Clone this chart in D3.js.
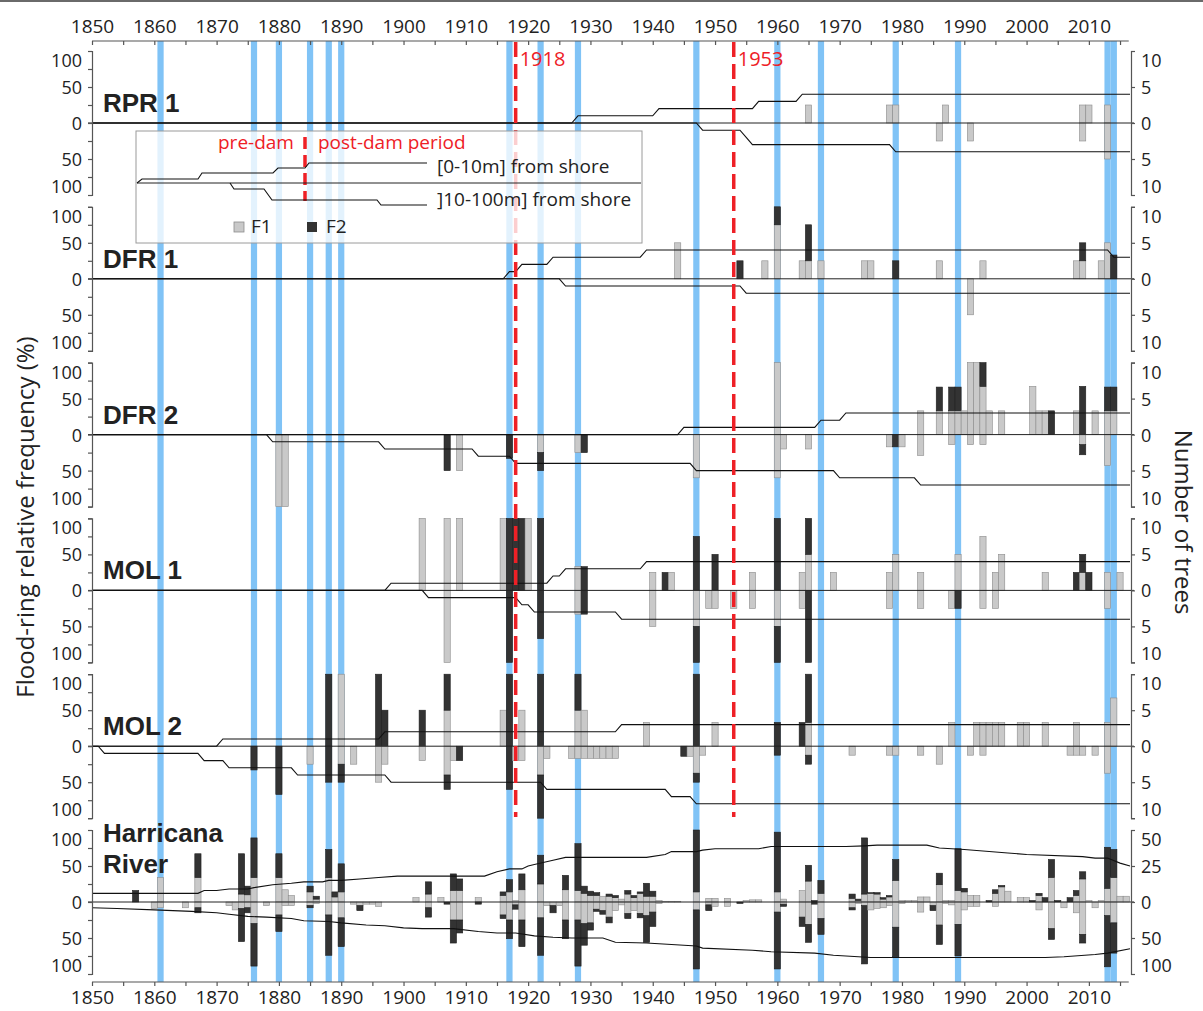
<!DOCTYPE html>
<html>
<head>
<meta charset="utf-8">
<script src="https://cdn.jsdelivr.net/npm/d3@7"></script>
<style>
body { margin: 0; background: #fff; }
svg { display: block; font-family: "Open Sans", sans-serif; }
</style>
</head>
<body>
<div id="chart"></div>
<script>
// ---- data ----
const tickYears = d3.range(1850, 2016, 5)
const labelYears = d3.range(1850, 2011, 10)
const floodYears = [1861, 1876, 1880, 1885, 1888, 1890, 1917, 1922, 1928, 1947, 1960, 1967, 1979, 1989, 2013, 2014]
const damYears = [1918, 1953]
const panelNames = ['RPR 1', 'DFR 1', 'DFR 2', 'MOL 1', 'MOL 2', 'Harricana|River']
const pctTicks = [-100, -75, -50, -25, 0, 25, 50, 75, 100]
const treeLabels = [10, 5, 0, 5, 10]          // bottom -> top
const harrTreeLabels = [100, 50, 0, 25, 50]   // bottom -> top

// bars: [year, F1 up, F2 up, F1 down, F2 down] (%), up = [0-10m], down = ]10-100m]
const rpr1Bars = [[1965,25,0,0,0],[1978,25,0,0,0],[1979,25,0,0,0],[1986,0,0,25,0],[1987,25,0,0,0],
  [1991,0,0,25,0],[2009,25,0,25,0],[2010,25,0,0,0],[2013,25,0,50,0]]
const dfr1Bars = [[1944,50,0,0,0],[1954,0,25,0,0],[1958,25,0,0,0],[1960,75,25,0,0],[1964,25,0,0,0],
  [1965,25,50,0,0],[1967,25,0,0,0],[1974,25,0,0,0],[1975,25,0,0,0],[1979,0,25,0,0],[1986,25,0,0,0],
  [1991,0,0,50,0],[1993,25,0,0,0],[2008,25,0,0,0],[2009,25,25,0,0],[2012,25,0,0,0],[2013,50,0,0,0],[2014,0,33,0,0]]
const dfr2Bars = [[1880,0,0,100,0],[1881,0,0,100,0],[1907,0,0,0,50],[1909,0,0,50,0],[1917,0,0,0,33],
  [1922,0,0,25,25],[1928,0,0,25,0],[1929,0,0,0,25],[1947,0,0,60,0],[1960,100,0,60,0],[1961,0,0,20,0],
  [1965,0,0,20,0],[1978,0,0,17,0],[1979,0,0,0,17],[1980,0,0,17,0],[1983,33,0,29,0],[1986,33,33,0,0],
  [1988,33,33,14,0],[1989,33,33,0,0],[1990,33,0,0,0],[1991,100,0,14,0],[1992,100,0,0,0],[1993,67,33,14,0],
  [1994,33,0,0,0],[1996,33,0,0,0],[2001,67,0,0,0],[2002,33,0,0,0],[2003,33,0,0,0],[2004,0,33,0,0],
  [2008,33,0,0,0],[2009,0,67,14,14],[2011,33,0,0,0],[2013,33,33,43,0],[2014,33,33,0,0]]
const mol1Bars = [[1903,100,0,0,0],[1907,100,0,100,0],[1909,100,0,0,0],[1916,100,0,0,0],[1917,0,100,0,100],
  [1918,0,100,0,0],[1919,0,100,0,0],[1920,100,0,0,0],[1922,0,100,0,67],[1928,33,0,33,0],[1929,0,33,0,33],
  [1940,25,0,50,0],[1942,0,25,0,0],[1943,25,0,0,0],[1947,0,75,50,50],[1949,0,0,25,0],[1950,0,50,25,0],
  [1953,0,0,25,0],[1956,25,0,25,0],[1960,0,100,50,50],[1964,25,0,25,0],[1965,50,50,0,100],[1969,25,0,0,0],
  [1978,25,0,25,0],[1979,50,0,0,0],[1983,25,0,25,0],[1988,0,0,25,0],[1989,50,0,0,25],[1993,75,0,25,0],
  [1995,25,0,25,0],[1996,50,0,0,0],[2003,25,0,0,0],[2008,0,25,0,0],[2009,25,25,0,0],[2010,0,25,0,0],
  [2013,25,0,25,0],[2015,25,0,0,0]]
const mol2Bars = [[1876,0,0,0,33],[1880,0,0,0,67],[1885,0,0,25,0],[1888,0,100,0,50],[1890,100,0,25,25],
  [1892,0,0,25,0],[1896,0,100,50,0],[1897,0,50,25,0],[1903,0,50,20,0],[1907,50,50,40,20],[1908,0,0,20,0],
  [1909,0,0,0,20],[1916,50,0,0,0],[1917,0,100,0,60],[1918,0,0,20,0],[1919,50,0,20,0],[1922,0,100,40,60],
  [1923,0,0,17,0],[1927,0,0,17,0],[1928,50,50,17,0],[1929,50,0,17,0],[1930,0,0,17,0],[1931,0,0,17,0],
  [1932,0,0,17,0],[1933,0,0,17,0],[1934,0,0,17,0],[1939,33,0,0,0],[1945,0,0,0,14],[1946,0,0,14,0],
  [1947,0,100,37.5,12.5],[1948,0,0,12.5,0],[1950,33,0,0,0],[1960,0,33,0,12.5],[1964,0,33,0,0],
  [1965,33,67,12.5,12.5],[1972,0,0,12.5,0],[1978,0,0,12.5,0],[1979,0,0,12.5,0],[1983,0,0,12.5,0],
  [1986,0,0,25,0],[1988,33,0,0,0],[1991,0,0,12.5,0],[1992,33,0,0,0],[1993,33,0,12.5,0],[1994,33,0,0,0],
  [1995,33,0,0,0],[1996,33,0,0,0],[1999,33,0,0,0],[2000,33,0,0,0],[2003,33,0,0,0],[2007,0,0,12.5,0],
  [2008,33,0,12.5,0],[2009,0,0,12.5,0],[2011,0,0,12.5,0],[2013,33,0,37.5,0],[2014,67,0,0,0]]
const harrBars = [[1857,0,16,0,0],[1860,0,0,9,0],[1861,34,0,8,0],[1865,0,0,8,0],[1867,34,33,8,7],
  [1872,0,0,5,0],[1873,0,0,11,0],[1874,11,56,9,46],[1875,10,12,8,7],[1876,34,55,30,59],[1878,0,0,5,0],
  [1880,34,33,18,23],[1881,17,0,5,0],[1882,9,0,5,0],[1885,14,8,5,3],[1886,4,4,2,0],[1888,34,39,18,56],
  [1889,7,7,0,0],[1890,14,39,22,40],[1892,0,0,3,0],[1893,0,0,5,7],[1894,0,0,3,0],[1895,0,0,3,0],
  [1896,0,0,6,0],[1902,6,0,0,0],[1904,11,17,8,13],[1906,6,0,0,0],[1907,0,0,0,3],[1908,16,23,25,32],
  [1909,16,16,25,18],[1912,6,0,0,3],[1916,9,5,18,5],[1917,14,17,25,26],[1918,2,0,4,6],[1919,17,22,25,37],
  [1922,25,40,22,52],[1923,0,0,5,0],[1924,0,0,5,10],[1925,0,0,5,0],[1926,17,20,25,26],[1928,16,65,25,64],
  [1929,12,10,30,30],[1930,9,6,29,10],[1931,9,4,10,3],[1932,8,0,12,5],[1933,8,3,21,8],[1934,6,3,12,0],
  [1935,4,0,4,0],[1936,11,5,16,7],[1937,6,3,12,0],[1938,12,2,16,6],[1939,8,18,19,37],[1940,8,7,14,20],
  [1941,2,0,2,0],[1942,1,0,0,0],[1943,1,0,0,0],[1944,1,0,0,0],[1947,14,86,11,82],[1949,5,0,4,8],
  [1950,5,0,6,0],[1952,5,0,6,0],[1954,0,0,0,2],[1955,2,0,0,0],[1956,3,0,0,0],[1957,3,0,0,0],
  [1960,14,83,14,79],[1961,4,0,3,3],[1964,16,0,21,13],[1965,29,22,31,25],[1966,0,2,0,3],[1967,12,18,23,22],
  [1972,5,6,8,3],[1973,2,2,2,0],[1974,11,78,5,81],[1975,12,1,11,0],[1976,11,2,9,0],[1977,4,2,8,0],
  [1978,7,2,5,0],[1979,30,29,35,41],[1980,2,0,2,0],[1981,2,0,0,0],[1982,2,0,0,0],[1983,7,0,14,0],
  [1984,7,0,0,0],[1985,0,0,5,7],[1986,24,16,32,27],[1987,2,0,2,0],[1988,2,0,4,0],[1989,16,58,31,44],
  [1990,14,5,11,0],[1991,9,0,6,0],[1992,9,0,6,0],[1994,0,2,0,0],[1995,12,5,6,0],[1996,21,2,0,0],
  [1997,15,0,0,0],[1999,6,0,0,0],[2000,6,0,0,0],[2001,0,2,0,0],[2002,9,3,11,0],[2003,0,6,0,0],
  [2004,34,25,37,15],[2005,0,2,0,0],[2006,0,0,8,0],[2007,0,6,0,0],[2008,9,7,15,0],[2009,32,10,45,12],
  [2010,2,0,0,0],[2011,0,0,8,0],[2012,2,0,0,0],[2013,19,57,19,71],[2014,34,39,29,42],[2015,8,0,0,0],[2016,8,0,0,0]]

// number of trees: [year the change starts, new count]
const rpr1Near = [[1850,0],[1927,1],[1940,2],[1956,3],[1963,4]]
const rpr1Far = [[1850,0],[1947,1],[1954,2],[1955,3],[1978,4]]
const dfr1Near = [[1850,0],[1916,1],[1918,2],[1923,3],[1938,4],[2013,3]]
const dfr1Far = [[1850,0],[1925,1],[1954,2]]
const dfr2Near = [[1850,0],[1944,1],[1966,2],[1970,3]]
const dfr2Far = [[1850,0],[1878,1],[1896,2],[1911,3],[1917,4],[1946,5],[1969,6],[1982,7]]
const mol1Near = [[1850,0],[1897,1],[1923,2],[1925,3],[1938,4]]
const mol1Far = [[1850,0],[1903,1],[1918,2],[1920,3],[1934,4]]
const mol2Near = [[1850,0],[1870,1],[1896,2],[1934,3]]
const mol2Far = [[1850,0],[1851,1],[1867,2],[1871,3],[1882,4],[1897,5],[1922,6],[1942,7],[1946,8]]
// Harricana River: [year, number of trees]
const harrNear = [[1850,6],[1867,6],[1868,8],[1870,8],[1872,9],[1875,9],[1876,10],[1879,12],[1882,13],
  [1884,14],[1887,14],[1888,15],[1890,15],[1893,16],[1896,17],[1899,18],[1913,18],[1915,21],[1917,23],
  [1919,23],[1920,25],[1921,26],[1924,29],[1926,31],[1939,31],[1942,33],[1943,35],[1947,35],[1948,36],
  [1950,37],[1957,37],[1959,38.5],[1971,38.5],[1974,39],[1976,39.5],[1984,39.5],[1986,37.5],[1990,36.5],
  [1997,34],[2000,33],[2009,31.5],[2011,30.5],[2013,30.5],[2015,27],[2016.6,25]]
const harrFar = [[1850,8],[1854,9],[1860,11],[1866,13],[1870,15],[1872,17],[1875,20],[1878,21],[1882,23],
  [1884,26],[1888,27],[1890,29],[1894,32],[1897,33],[1900,36],[1903,37],[1908,37],[1912,41],[1915,43],
  [1918,43],[1921,47],[1924,49],[1927,50],[1932,50],[1934,56],[1939,57],[1947,61],[1948,64],[1956,67],
  [1959,69],[1966,71],[1969,74],[1975,77],[2003,77],[2006,76],[2011,73],[2013,71],[2016.6,65]]

// ---- layout ----
const W = 1203, H = 1011
const xStart = 92, xEnd = 1130
const axisTopY = 41, axisBottomY = 982
const zero0 = 123, panelStep = 155.8, half = 72
const gray = '#c9c9c9', dark = '#333333', red = '#ee2026', blue = '#80c3f6'

const x = d3.scaleLinear().domain([1850, 2016.6]).range([xStart, xEnd])
const yearW = x(1851) - x(1850)

const panels = [
  {bars: rpr1Bars, near: rpr1Near, far: rpr1Far, step: true, nearMax: 10, farMax: 10, right: treeLabels},
  {bars: dfr1Bars, near: dfr1Near, far: dfr1Far, step: true, nearMax: 10, farMax: 10, right: treeLabels},
  {bars: dfr2Bars, near: dfr2Near, far: dfr2Far, step: true, nearMax: 10, farMax: 10, right: treeLabels},
  {bars: mol1Bars, near: mol1Near, far: mol1Far, step: true, nearMax: 10, farMax: 10, right: treeLabels},
  {bars: mol2Bars, near: mol2Near, far: mol2Far, step: true, nearMax: 10, farMax: 10, right: treeLabels},
  {bars: harrBars, near: harrNear, far: harrFar, step: false, nearMax: 50, farMax: 100, right: harrTreeLabels}
]

function stepPoints(events) {
  let pts = [[events[0][0], events[0][1]]]
  for (let i = 1; i < events.length; i++) {
    pts.push([events[i][0], events[i - 1][1]])
    pts.push([events[i][0] + 1, events[i][1]])
  }
  pts.push([2016.6, events[events.length - 1][1]])
  return pts
}

// end labels (100 / 10) sit a little inside the bracket
const labelShift = d => d === 100 ? 9 : d === -100 ? -9 : 0

const svg = d3.select('#chart').append('svg')
  .attr('width', W)
  .attr('height', H)

svg.append('rect').attr('x', 0).attr('y', 0).attr('width', W).attr('height', 2).attr('fill', '#6a6a6a')

// flood years (blue bands)
svg.append('g').selectAll('rect')
  .data(floodYears)
  .join('rect')
  .attr('x', d => x(d - 0.5))
  .attr('width', yearW)
  .attr('y', axisTopY)
  .attr('height', axisBottomY - axisTopY)
  .attr('fill', blue)

panels.forEach((p, i) => {
  const zero = zero0 + panelStep * i
  const yUp = d3.scaleLinear().domain([0, 100]).range([zero, zero - half])
  const yDn = d3.scaleLinear().domain([0, 100]).range([zero, zero + half])
  const yAxisScale = d3.scaleLinear().domain([-100, 100]).range([zero + half, zero - half])
  const g = svg.append('g')

  // stacked bars
  const segs = []
  p.bars.forEach(b => {
    const [yr, f1u, f2u, f1d, f2d] = b
    if (f1u > 0) segs.push({yr, y0: yUp(f1u), y1: yUp(0), c: gray})
    if (f2u > 0) segs.push({yr, y0: yUp(f1u + f2u), y1: yUp(f1u), c: dark})
    if (f1d > 0) segs.push({yr, y0: yDn(0), y1: yDn(f1d), c: gray})
    if (f2d > 0) segs.push({yr, y0: yDn(f1d), y1: yDn(f1d + f2d), c: dark})
  })
  g.selectAll('rect.bar')
    .data(segs)
    .join('rect')
    .attr('class', 'bar')
    .attr('x', d => x(d.yr - 0.5))
    .attr('width', yearW)
    .attr('y', d => d.y0)
    .attr('height', d => d.y1 - d.y0)
    .attr('fill', d => d.c)
    .attr('stroke', d => d.c === gray ? '#8c8c8c' : '#1e1e1e')
    .attr('stroke-width', 0.6)

  // zero line
  g.append('line')
    .attr('x1', xStart - 4).attr('x2', xEnd + 4)
    .attr('y1', zero).attr('y2', zero)
    .attr('stroke', '#222').attr('stroke-width', 1)

  // number of trees lines
  const nearScale = d3.scaleLinear().domain([0, p.nearMax]).range([zero, zero - half])
  const farScale = d3.scaleLinear().domain([0, p.farMax]).range([zero, zero + half])
  const nearPts = p.step ? stepPoints(p.near) : p.near
  const farPts = p.step ? stepPoints(p.far) : p.far
  g.append('path')
    .attr('d', d3.line().x(d => x(d[0])).y(d => nearScale(d[1]))(nearPts))
    .attr('fill', 'none').attr('stroke', '#111').attr('stroke-width', 1.1)
  g.append('path')
    .attr('d', d3.line().x(d => x(d[0])).y(d => farScale(d[1]))(farPts))
    .attr('fill', 'none').attr('stroke', '#111').attr('stroke-width', 1.1)

  // left axis
  const la = g.append('g')
    .attr('transform', `translate(${xStart},0)`)
    .call(d3.axisLeft(yAxisScale).tickValues(pctTicks).tickSize(4).tickSizeOuter(4)
      .tickFormat(d => d % 50 === 0 ? Math.abs(d) : ''))
  la.selectAll('.tick text')
    .attr('font-size', 18).attr('fill', '#222').attr('font-family', '"Open Sans", sans-serif')
    .attr('x', -10)
    .attr('y', labelShift)
    .attr('dy', '0.36em')
  la.selectAll('path, line').attr('stroke', '#555').attr('stroke-width', 1.2)

  // right axis
  const ra = g.append('g')
    .attr('transform', `translate(${xEnd + 1},0)`)
    .call(d3.axisRight(yAxisScale).tickValues([-100, -50, 0, 50, 100]).tickSize(4).tickSizeOuter(4)
      .tickFormat((d, k) => p.right[k]))
  ra.selectAll('.tick text')
    .attr('font-size', 18).attr('fill', '#222').attr('font-family', '"Open Sans", sans-serif')
    .attr('x', 10)
    .attr('y', labelShift)
    .attr('dy', '0.36em')
  ra.selectAll('path, line').attr('stroke', '#555').attr('stroke-width', 1.2)

  // panel name
  const nameParts = panelNames[i].split('|')
  const nm = g.append('text')
    .attr('font-family', '"Liberation Sans", Arial, sans-serif')
    .attr('font-weight', 'bold')
    .attr('font-size', 26)
    .attr('fill', '#222')
  const nameBase = nameParts.length > 1 ? zero - 29 : zero - 11
  nameParts.forEach((t, k) => {
    nm.append('tspan')
      .attr('x', 103)
      .attr('y', nameBase - (nameParts.length - 1 - k) * 31)
      .text(t)
  })
})

// dam years
svg.append('g').selectAll('line')
  .data(damYears)
  .join('line')
  .attr('x1', d => x(d)).attr('x2', d => x(d))
  .attr('y1', axisTopY + 1).attr('y2', 817)
  .attr('stroke', red).attr('stroke-width', 3.5)
  .attr('stroke-dasharray', '15,7')
svg.append('g').selectAll('text')
  .data(damYears)
  .join('text')
  .attr('x', d => x(d) + 4)
  .attr('y', 66)
  .attr('font-size', 20)
  .attr('fill', red)
  .text(d => d)

// legend
const lg = svg.append('g')
lg.append('rect')
  .attr('x', 136).attr('y', 131).attr('width', 506).attr('height', 112)
  .attr('fill', '#fff').attr('fill-opacity', 0.78)
  .attr('stroke', '#9a9a9a').attr('stroke-width', 1)
lg.append('text').attr('x', 218).attr('y', 149).attr('font-size', 19).attr('fill', red).text('pre-dam')
lg.append('text').attr('x', 318).attr('y', 149).attr('font-size', 19).attr('fill', red).text('post-dam period')
lg.append('line').attr('x1', 305).attr('x2', 305).attr('y1', 137).attr('y2', 201)
  .attr('stroke', red).attr('stroke-width', 3.5).attr('stroke-dasharray', '12,6')
lg.append('line').attr('x1', 137).attr('x2', 641).attr('y1', 183).attr('y2', 183)
  .attr('stroke', '#222').attr('stroke-width', 1)
const legNear = [[137,183],[142,179],[198,179],[202,173],[273,173],[278,168],[305,168],[309,163],[427,163]]
const legFar = [[230,183],[234,189],[264,189],[272,200],[377,200],[381,205],[427,205]]
lg.append('path').attr('d', d3.line()(legNear)).attr('fill', 'none').attr('stroke', '#111').attr('stroke-width', 1.1)
lg.append('path').attr('d', d3.line()(legFar)).attr('fill', 'none').attr('stroke', '#111').attr('stroke-width', 1.1)
lg.append('text').attr('x', 437).attr('y', 173).attr('font-size', 19).attr('fill', '#222').text('[0-10m] from shore')
lg.append('text').attr('x', 437).attr('y', 206).attr('font-size', 19).attr('fill', '#222').text(']10-100m] from shore')
lg.append('rect').attr('x', 234).attr('y', 222).attr('width', 10).attr('height', 10)
  .attr('fill', gray).attr('stroke', '#8c8c8c').attr('stroke-width', 0.8)
lg.append('text').attr('x', 251).attr('y', 233).attr('font-size', 19).attr('fill', '#222').text('F1')
lg.append('rect').attr('x', 307).attr('y', 222).attr('width', 10).attr('height', 10)
  .attr('fill', dark)
lg.append('text').attr('x', 326).attr('y', 233).attr('font-size', 19).attr('fill', '#222').text('F2')

// time axes
const fmtYear = d => labelYears.includes(d) ? d : ''
const topAxis = svg.append('g')
  .attr('transform', `translate(0,${axisTopY})`)
  .call(d3.axisTop(x).tickValues(tickYears).tickSize(-4).tickSizeOuter(0).tickPadding(8).tickFormat(fmtYear))
const bottomAxis = svg.append('g')
  .attr('transform', `translate(0,${axisBottomY})`)
  .call(d3.axisBottom(x).tickValues(tickYears).tickSize(4).tickSizeOuter(0).tickPadding(5).tickFormat(fmtYear))
;[topAxis, bottomAxis].forEach(a => {
  a.select('.domain').attr('d', `M${xStart},0H${x(2016.4)}`)
  a.selectAll('path, line').attr('stroke', '#555').attr('stroke-width', 1.2)
  a.selectAll('text').attr('font-size', 19).attr('fill', '#222').attr('font-family', '"Open Sans", sans-serif')
})

// axis titles
svg.append('text')
  .attr('transform', 'translate(34,517) rotate(-90)')
  .attr('text-anchor', 'middle')
  .attr('font-size', 24)
  .attr('fill', '#222')
  .text('Flood-ring relative frequency (%)')
svg.append('text')
  .attr('transform', 'translate(1175,522) rotate(90)')
  .attr('text-anchor', 'middle')
  .attr('font-size', 24)
  .attr('fill', '#222')
  .text('Number of trees')
</script>
</body>
</html>
